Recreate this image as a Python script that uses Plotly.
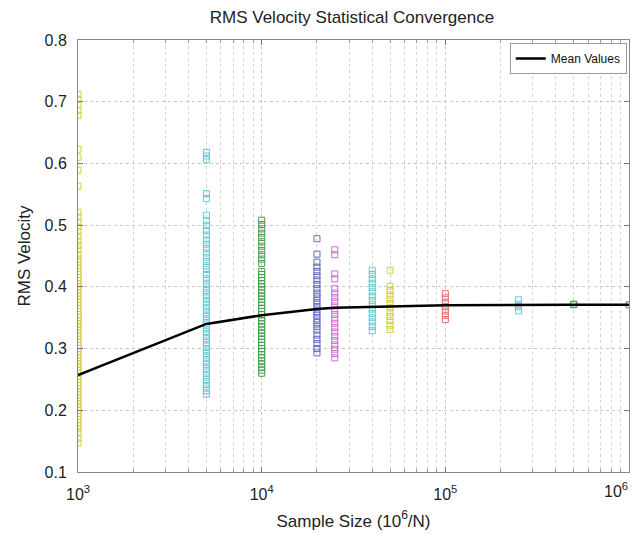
import plotly.graph_objects as go

# ---- data ----
sample_sizes = [1e3, 5e3, 1e4, 2e4, 2.5e4, 4e4, 5e4, 1e5, 2.5e5, 5e5, 1e6]
mean_values = [0.257, 0.340, 0.354, 0.364, 0.366, 0.368, 0.368, 0.370, 0.371, 0.371, 0.371]

vals_1000 = [0.712, 0.704, 0.695, 0.686, 0.678, 0.623, 0.61, 0.589, 0.563,
             0.521, 0.513, 0.505, 0.497, 0.49, 0.482, 0.474, 0.467, 0.46, 0.452,
             0.445, 0.44, 0.435, 0.43, 0.425, 0.42, 0.415, 0.41, 0.405, 0.40,
             0.395, 0.39, 0.385, 0.38, 0.375, 0.37, 0.365, 0.36, 0.355, 0.35,
             0.345, 0.34, 0.335, 0.33, 0.325, 0.32, 0.315, 0.31, 0.305, 0.30,
             0.295, 0.29, 0.285, 0.28, 0.275, 0.27, 0.265, 0.26, 0.255, 0.25,
             0.245, 0.24, 0.235, 0.23, 0.225, 0.22, 0.215, 0.21, 0.205, 0.20,
             0.195, 0.19, 0.185, 0.18, 0.175, 0.17, 0.163, 0.155, 0.147]
vals_5000 = [0.618, 0.612, 0.606, 0.551, 0.543, 0.516, 0.507, 0.499, 0.491,
             0.484, 0.476, 0.469, 0.462, 0.455, 0.448, 0.441, 0.434, 0.428,
             0.42, 0.413, 0.406, 0.40, 0.394, 0.388, 0.382, 0.376, 0.37, 0.364,
             0.358, 0.352, 0.346, 0.34, 0.334, 0.328, 0.322, 0.316, 0.31, 0.304,
             0.298, 0.292, 0.286, 0.28, 0.274, 0.268, 0.262, 0.256, 0.25, 0.244,
             0.238, 0.232, 0.226]
vals_10000 = [0.508, 0.501, 0.494, 0.487, 0.48, 0.473, 0.466, 0.459, 0.452,
              0.445, 0.438, 0.425, 0.42, 0.415, 0.41, 0.405, 0.40, 0.395, 0.39,
              0.385, 0.38, 0.375, 0.37, 0.365, 0.36, 0.355, 0.35, 0.345, 0.34,
              0.335, 0.33, 0.325, 0.32, 0.315, 0.31, 0.305, 0.30, 0.295, 0.29,
              0.285, 0.28, 0.275, 0.27, 0.265, 0.26]
vals_20000 = [0.478, 0.453, 0.44, 0.432, 0.425, 0.418, 0.411, 0.404, 0.397,
              0.39, 0.384, 0.378, 0.372, 0.366, 0.36, 0.354, 0.348, 0.342,
              0.336, 0.33, 0.322, 0.315, 0.308, 0.30, 0.293]
vals_25000 = [0.46, 0.452, 0.421, 0.413, 0.397, 0.39, 0.383, 0.376, 0.369,
              0.362, 0.355, 0.348, 0.341, 0.334, 0.327, 0.32, 0.313, 0.306,
              0.299, 0.292, 0.285]
vals_40000 = [0.427, 0.42, 0.413, 0.406, 0.399, 0.392, 0.385, 0.378, 0.371,
              0.364, 0.357, 0.35, 0.343, 0.336, 0.329]
vals_50000 = [0.427, 0.401, 0.394, 0.387, 0.38, 0.373, 0.366, 0.359, 0.352,
              0.345, 0.338, 0.331]
vals_100000 = [0.389, 0.382, 0.375, 0.368, 0.361, 0.354, 0.347]
vals_250000 = [0.379, 0.372, 0.368, 0.361]
vals_500000 = [0.372, 0.371]
vals_1000000 = [0.371]

all_vals = [vals_1000, vals_5000, vals_10000, vals_20000, vals_25000, vals_40000,
            vals_50000, vals_100000, vals_250000, vals_500000, vals_1000000]
col_colors = ["#c8c800", "#30c4c4", "#1f8a1f", "#3a48b8", "#c848c8", "#30c4c4",
              "#c8c800", "#e84848", "#30c4c4", "#1f8a1f", "#3a48b8"]

x_tickvals = [1e3, 1e4, 1e5, 1e6]
x_ticktext = ["10<sup>3</sup>", "10<sup>4</sup>", "10<sup>5</sup>", ""]
x_last_label = "10<sup>6</sup>"
x_minor_vals = [m * d for d in (1e3, 1e4, 1e5) for m in range(2, 10)]
y_tickvals = [0.1, 0.2, 0.3, 0.4, 0.5, 0.6, 0.7, 0.8]
y_ticktext = ["0.1", "0.2", "0.3", "0.4", "0.5", "0.6", "0.7", "0.8"]

fig = go.Figure()
for xs, vals, c in zip(sample_sizes, all_vals, col_colors):
    fig.add_trace(go.Scatter(
        x=[xs] * len(vals), y=vals, mode="markers",
        marker=dict(symbol="square-open", size=6, color=c, line=dict(width=1, color=c)),
        opacity=0.8, showlegend=False, cliponaxis=True, hoverinfo="skip"))

fig.add_trace(go.Scatter(x=sample_sizes, y=mean_values, mode="lines",
                         line=dict(color="black", width=2.5), name="Mean Values"))

font = "Liberation Sans, Arial, sans-serif"
# the page body has an 8px margin, so the figure is sized 630x526 and offset accordingly
fig.update_layout(
    width=630, height=526,
    paper_bgcolor="white", plot_bgcolor="white",
    margin=dict(l=70, r=9, t=32, b=62),
    font=dict(family=font, size=16, color="#222"),
    title=dict(text="RMS Velocity Statistical Convergence", x=0.546, xanchor="center",
               y=0.983, yanchor="middle", font=dict(size=17, color="#222")),
    showlegend=True,
    legend=dict(x=0.996, y=0.993, xanchor="right", yanchor="top",
                bgcolor="white", bordercolor="#999", borderwidth=1,
                font=dict(size=12, color="#111"), itemwidth=30,
                tracegroupgap=0),
    xaxis=dict(type="log", range=[3, 6], tickmode="array",
               tickvals=x_tickvals, ticktext=x_ticktext, ticklabelstandoff=8,
               ticks="inside", ticklen=5, tickcolor="#777",
               showline=True, linecolor="#888", linewidth=1, mirror="ticks",
               showgrid=True, gridcolor="#c8c8c8", griddash="dot", gridwidth=1,
               minor=dict(tickmode="array", tickvals=x_minor_vals,
                          ticks="inside", ticklen=3, tickcolor="#999", showgrid=True,
                          gridcolor="#d4d4d4", griddash="dot", gridwidth=1),
               zeroline=False, automargin=False,
               title=dict(text="Sample Size (10<sup>6</sup>/N)", font=dict(size=17), standoff=12),
               tickfont=dict(size=16)),
    yaxis=dict(range=[0.1, 0.8], tickmode="array", tickvals=y_tickvals, ticktext=y_ticktext,
               ticklabelstandoff=7,
               ticks="inside", ticklen=5, tickcolor="#777",
               showline=True, linecolor="#888", linewidth=1, mirror="ticks",
               showgrid=True, gridcolor="#c8c8c8", griddash="dot", gridwidth=1,
               zeroline=False, automargin=False,
               title=dict(text="RMS Velocity", font=dict(size=17), standoff=9),
               tickfont=dict(size=16)),
)
fig.add_annotation(text=x_last_label, xref="paper", yref="paper", x=1, y=0,
                   xanchor="right", yanchor="top", xshift=1, yshift=-6,
                   showarrow=False, font=dict(size=16, color="#222"))

fig.write_html("out.html")
